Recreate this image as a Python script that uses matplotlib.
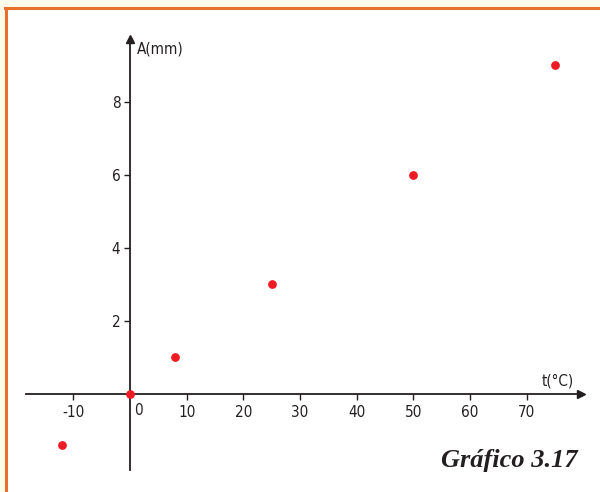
import matplotlib.pyplot as plt
from matplotlib.patches import Rectangle

# data
t_vals = [-12, 0, 8, 25, 50, 75]
a_vals = [-1.4, 0, 1, 3, 6, 9]
x_ticks = [-10, 10, 20, 30, 40, 50, 60, 70]
y_ticks = [2, 4, 6, 8]

lab = dict(family='DejaVu Sans', fontstretch='condensed', fontsize=11, color='#231f20')

fig = plt.figure(figsize=(6, 4.92), dpi=100)
fig.patch.set_facecolor('#fdfbe9')
# white panel with orange border on top and left
fig.patches.append(Rectangle((6/600, 0), 1, 1 - 8/492, transform=fig.transFigure,
                             facecolor='white', edgecolor='none', zorder=0))
fig.add_artist(plt.Line2D([5/600, 1], [1 - 8/492, 1 - 8/492], color='#e9702b', lw=2.2, zorder=1))
fig.add_artist(plt.Line2D([5.5/600, 5.5/600], [0, 1 - 8/492], color='#e9702b', lw=2.2, zorder=1))

ax = fig.add_axes([0, 0, 1, 1])
ax.set_zorder(3)
ax.patch.set_visible(False)
ax.set_xlim(-22.93, 82.9)
ax.set_ylim(-2.685, 10.79)

for s in ['top', 'right']:
    ax.spines[s].set_visible(False)
ax.spines['left'].set_position(('data', 0))
ax.spines['bottom'].set_position(('data', 0))
ax.spines['bottom'].set_bounds(-18.3, 79.5)
ax.spines['left'].set_bounds(-2.08, 9.65)
for s in ['left', 'bottom']:
    ax.spines[s].set_color('#231f20')
    ax.spines[s].set_linewidth(1.3)

# arrow heads
ax.plot(79.6, 0, marker='>', color='#231f20', markersize=6, clip_on=False)
ax.plot(0, 9.72, marker='^', color='#231f20', markersize=6, clip_on=False)

ax.set_xticks(x_ticks)
ax.set_xticklabels([str(v) for v in x_ticks], **lab)
ax.set_yticks(y_ticks)
ax.set_yticklabels([str(v) for v in y_ticks], **lab)
ax.tick_params(axis='x', direction='out', length=4, width=1, pad=4, colors='#231f20')
ax.tick_params(axis='y', direction='out', length=4, width=1, pad=3, colors='#231f20')

ax.text(0.7, -0.25, '0', ha='left', va='top', **lab)
ax.text(1.2, 9.45, 'A(mm)', ha='left', va='center', **lab)
ax.text(78.3, 0.15, 't(°C)', ha='right', va='bottom', **lab)

ax.scatter(t_vals, a_vals, s=28, color='#ed1c24', zorder=5, clip_on=False)

fig.text(578/600, 1 - 461/492, 'Gráfico 3.17', family='Liberation Serif', fontsize=19,
         fontweight='bold', fontstyle='italic', ha='right', va='center', color='#231f20')

fig.savefig('out.png', dpi=100)
